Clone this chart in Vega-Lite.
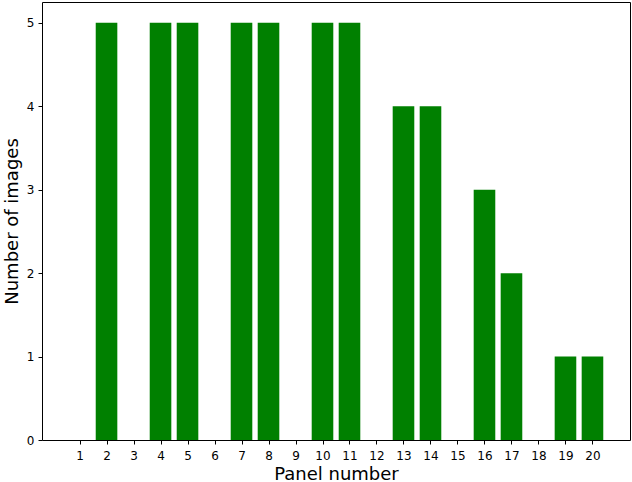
{
  "$schema": "https://vega.github.io/schema/vega-lite/v6.json",
  "autosize": "none",
  "width": 588,
  "height": 438,
  "padding": {"left": 42, "top": 2, "right": 2, "bottom": 42},
  "background": "white",
  "config": {
    "view": {"stroke": "black", "strokeWidth": 1},
    "font": "DejaVu Sans",
    "axis": {"grid": false, "domain": false, "tickColor": "black", "labelColor": "black", "titleColor": "black", "labelFont": "DejaVu Sans", "titleFont": "DejaVu Sans", "titleFontWeight": "normal"}
  },
  "data": {"values": [
    {"panel": 1, "count": 0},
    {"panel": 2, "count": 5},
    {"panel": 3, "count": 0},
    {"panel": 4, "count": 5},
    {"panel": 5, "count": 5},
    {"panel": 6, "count": 0},
    {"panel": 7, "count": 5},
    {"panel": 8, "count": 5},
    {"panel": 9, "count": 0},
    {"panel": 10, "count": 5},
    {"panel": 11, "count": 5},
    {"panel": 12, "count": 0},
    {"panel": 13, "count": 4},
    {"panel": 14, "count": 4},
    {"panel": 15, "count": 0},
    {"panel": 16, "count": 3},
    {"panel": 17, "count": 2},
    {"panel": 18, "count": 0},
    {"panel": 19, "count": 1},
    {"panel": 20, "count": 1}
  ]},
  "transform": [
    {"calculate": "datum.panel - 0.4", "as": "x0"},
    {"calculate": "datum.panel + 0.4", "as": "x1"}
  ],
  "mark": {"type": "rect", "color": "green"},
  "encoding": {
    "x": {
      "field": "x0", "type": "quantitative",
      "scale": {"domain": [-0.39, 21.39], "nice": false, "zero": false},
      "axis": {"values": [1,2,3,4,5,6,7,8,9,10,11,12,13,14,15,16,17,18,19,20], "format": "d", "title": "Panel number", "titleFontSize": 18, "labelFontSize": 12, "tickSize": 4, "labelPadding": 6, "titlePadding": 4}
    },
    "x2": {"field": "x1"},
    "y": {
      "field": "count", "type": "quantitative",
      "scale": {"domain": [0, 5.25], "nice": false},
      "axis": {"values": [0,1,2,3,4,5], "title": "Number of images", "titleFontSize": 18, "labelFontSize": 12, "tickSize": 4, "labelPadding": 4, "titlePadding": 5}
    },
    "y2": {"datum": 0}
  }
}
